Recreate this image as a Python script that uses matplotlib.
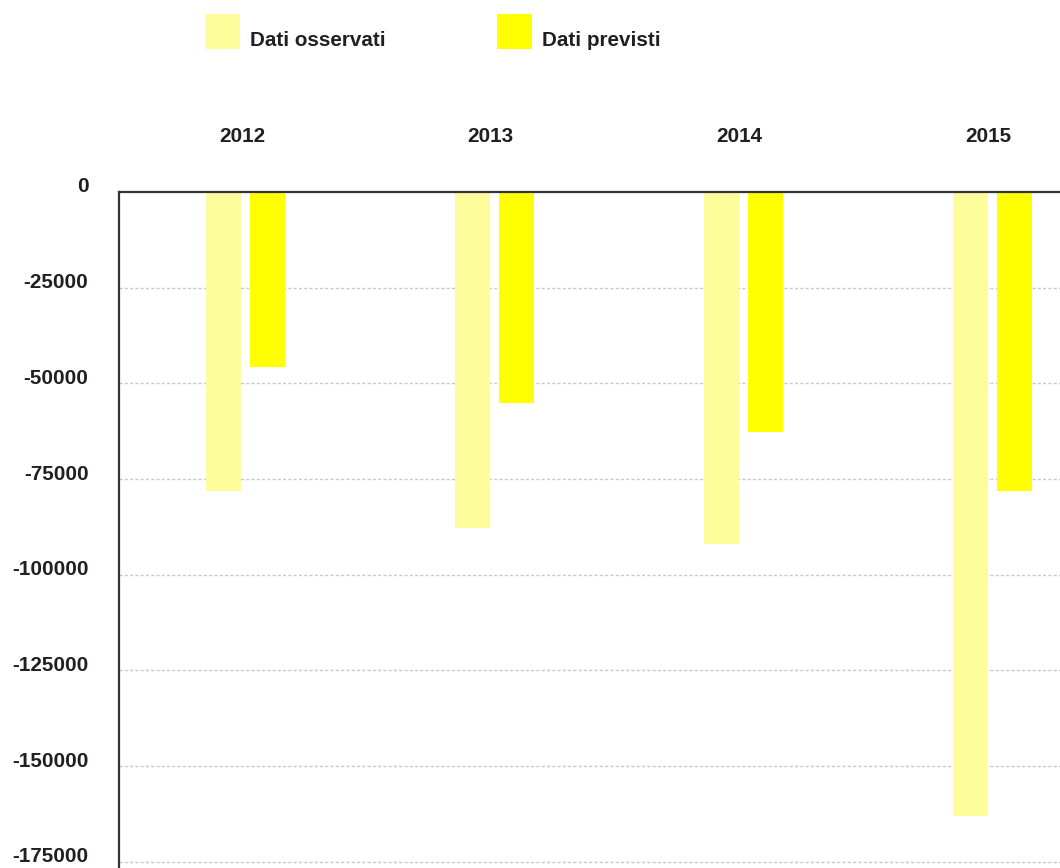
import matplotlib
matplotlib.use("Agg")
import matplotlib.pyplot as plt
import matplotlib.transforms as mtransforms
from matplotlib.patches import Rectangle

# Data
years = ["2012", "2013", "2014", "2015"]
observed = [-78000, -87700, -92000, -163000]
forecast = [-45700, -55100, -62700, -78000]
series_labels = ["Dati osservati", "Dati previsti"]
series_colors = ["#FDFD9B", "#FFFF00"]
y_ticks = [0, -25000, -50000, -75000, -100000, -125000, -150000, -175000]

plt.rcParams["font.family"] = ["Liberation Sans", "DejaVu Sans"]
TEXT = "#231f20"
FS = 14.9

W, H = 1060, 868
fig = plt.figure(figsize=(W / 100, H / 100), dpi=100)
fig.patch.set_facecolor("white")

# axes box: left edge at x=119 px, top at y=192 px, reaching the bottom/right edges
ax = fig.add_axes([119 / W, 0, 1 - 119 / W, (H - 192) / H])
ax.set_ylim(-176600, 0)
ax.set_xlim(-0.508, 3.273)

x = list(range(len(years)))
bw = 0.1407
off = 0.0884
ax.bar([i - off for i in x], observed, width=bw, color=series_colors[0], zorder=3, linewidth=0)
ax.bar([i + off for i in x], forecast, width=bw, color=series_colors[1], zorder=3, linewidth=0)

# spines
for s in ["right", "bottom"]:
    ax.spines[s].set_visible(False)
for s in ["top", "left"]:
    ax.spines[s].set_color("#333333")
    ax.spines[s].set_linewidth(1.6)
    ax.spines[s].set_zorder(5)

# horizontal dotted gridlines
for v in y_ticks[1:]:
    ax.axhline(v, color="#c8c8c8", lw=1.0, linestyle=(0, (2.2, 1.6)), zorder=1)

ax.set_xticks([])
ax.set_yticks(y_ticks)
ax.set_yticklabels([str(v) for v in y_ticks], fontsize=FS, fontweight="bold", color=TEXT)
ax.tick_params(axis="y", length=0, pad=22)
shift = mtransforms.ScaledTranslation(0, 0.07, fig.dpi_scale_trans)
for lbl in ax.get_yticklabels():
    lbl.set_transform(lbl.get_transform() + shift)

# year labels above the plot
trans = mtransforms.blended_transform_factory(ax.transData, fig.transFigure)
trans = trans + mtransforms.ScaledTranslation(-0.035, 0, fig.dpi_scale_trans)
for i, yr in enumerate(years):
    ax.text(i, 1 - 136 / H, yr, transform=trans, ha="center", va="center",
            fontsize=FS, fontweight="bold", color=TEXT, clip_on=False)

# legend
legend_x = [205, 497]
for lx, lab, col in zip(legend_x, series_labels, series_colors):
    fig.add_artist(Rectangle((lx / W, 1 - 49 / H), 35 / W, 35 / H,
                             transform=fig.transFigure, facecolor=col, edgecolor="none"))
    fig.text((lx + 45) / W, 1 - 40 / H, lab, ha="left", va="center",
             fontsize=FS, fontweight="bold", color=TEXT)

fig.savefig("out.png", dpi=100, facecolor="white")
